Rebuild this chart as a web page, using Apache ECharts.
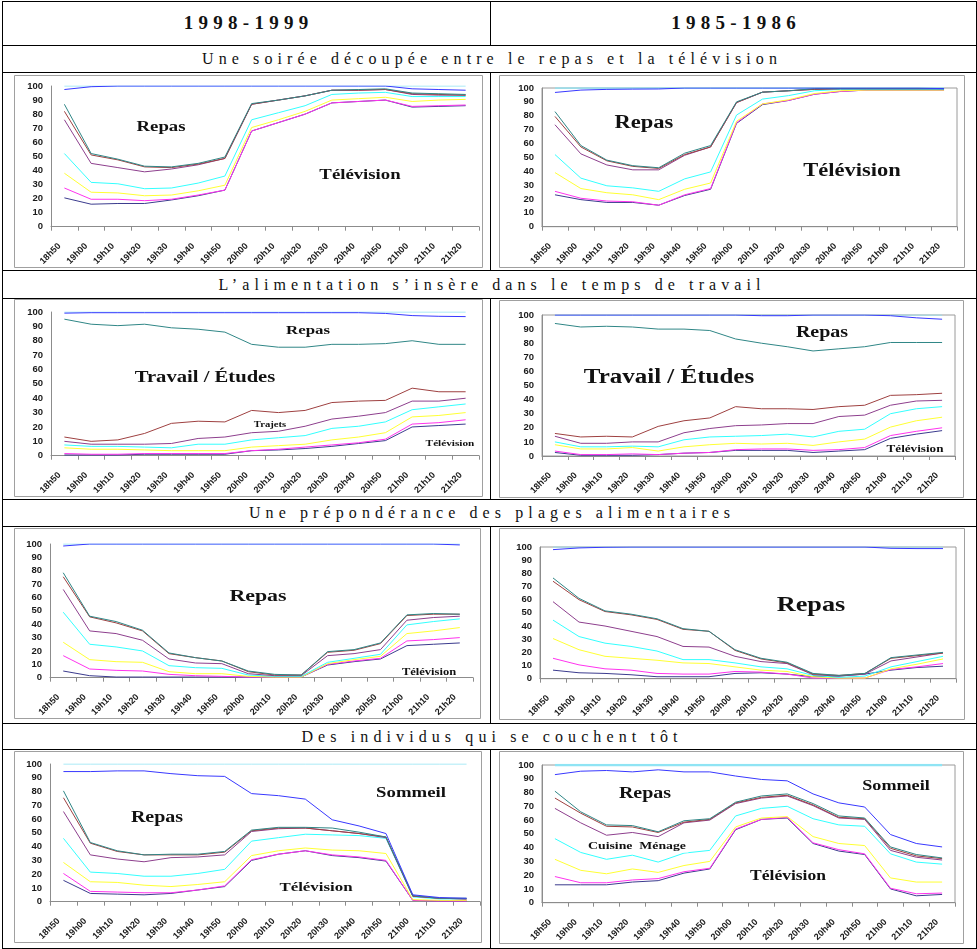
<!DOCTYPE html>
<html>
<head>
<meta charset="utf-8">
<script src="https://cdn.jsdelivr.net/npm/echarts@6.0.0/dist/echarts.min.js"></script>
<style>
  body { margin: 0; background: #fff; }
  #page { position: relative; width: 977px; height: 949px; font-family: "Liberation Serif", serif; color: #111; }
  .h, .v { position: absolute; background: #000; }
  .h { left: 2px; width: 975px; height: 1px; }
  .v { width: 1px; }
  .txt { position: absolute; text-align: center; white-space: nowrap; }
  .an { font-weight: bold; font-size: 19px; letter-spacing: 5.3px; text-indent: 5.3px; height: 44px; line-height: 44px; top: 1px; }
  .titre { left: 2px; width: 975px; font-size: 16px; letter-spacing: 5.1px; text-indent: 5.1px; height: 27px; line-height: 27px; }
  .graph { position: absolute; }
</style>
</head>
<body>
<div id="page">
  <!-- lignes du tableau -->
  <div class="h" style="top:1px"></div>
  <div class="h" style="top:45px"></div>
  <div class="h" style="top:72px"></div>
  <div class="h" style="top:270px"></div>
  <div class="h" style="top:298px"></div>
  <div class="h" style="top:499px"></div>
  <div class="h" style="top:526px"></div>
  <div class="h" style="top:723px"></div>
  <div class="h" style="top:749px"></div>
  <div class="h" style="top:948px"></div>
  <div class="v" style="left:2px;top:1px;height:948px"></div>
  <div class="v" style="left:976px;top:1px;height:948px"></div>
  <div class="v" style="left:490px;top:1px;height:44px"></div>
  <div class="v" style="left:490px;top:72px;height:198px"></div>
  <div class="v" style="left:490px;top:298px;height:201px"></div>
  <div class="v" style="left:490px;top:526px;height:197px"></div>
  <div class="v" style="left:490px;top:749px;height:199px"></div>

  <div class="txt an" style="left:2px;width:488px">1998-1999</div>
  <div class="txt an" style="left:491px;width:485px">1985-1986</div>
  <div class="txt titre" style="top:45px">Une soirée découpée entre le repas et la télévision</div>
  <div class="txt titre" style="top:271px">L’alimentation s’insère dans le temps de travail</div>
  <div class="txt titre" style="top:499px">Une prépondérance des plages alimentaires</div>
  <div class="txt titre" style="top:723px">Des individus qui se couchent tôt</div>

  <div class="graph" id="cA"></div>
  <div class="graph" id="cB"></div>
  <div class="graph" id="cC"></div>
  <div class="graph" id="cD"></div>
  <div class="graph" id="cE"></div>
  <div class="graph" id="cF"></div>
  <div class="graph" id="cG"></div>
  <div class="graph" id="cH"></div>
</div>

<script>
const heures = ['18h50', '19h00', '19h10', '19h20', '19h30', '19h40', '19h50', '20h00',
                '20h10', '20h20', '20h30', '20h40', '20h50', '21h00', '21h10', '21h20'];

// ordre des courbes : ciel (100), marine, rose, jaune, turquoise, violet, bordeaux, sarcelle, bleu
const couleurs = ['#8fe4f4', '#3b3b8e', '#ff33ee', '#ffff33', '#33ffff', '#8d3f8d', '#9e4040', '#2f8686', '#3838ff'];

// Une soirée découpée entre le repas et la télévision
const soiree1998 = [
  [100, 100, 100, 100, 100, 100, 100, 100, 100, 100, 100, 100, 100, 100, 100, 100],
  [20.5, 16, 16.5, 16.5, 19, 22, 26, 68, 74, 80, 88, 89, 90, 85, 85.5, 86],
  [27.5, 19.5, 19.5, 18.5, 19.5, 22.5, 26, 68, 74, 80, 88, 89, 90, 85.5, 86, 86.5],
  [38, 24.5, 24, 22, 22.5, 25.5, 29.5, 70.5, 76, 82, 90, 91, 92, 89, 90, 90.5],
  [52, 31.5, 30.5, 27, 27.5, 31, 36, 76, 81, 86, 94, 95, 95.5, 92.5, 92.5, 92.5],
  [76, 45, 42, 39, 41, 44, 48.5, 87, 90, 93, 97, 97, 97.5, 94, 93.5, 93.5],
  [82, 51, 47.5, 42.5, 42, 44.5, 48.5, 87, 90, 93, 97, 97, 97.5, 94.5, 94, 93.5],
  [87, 52, 48, 43, 42.5, 45, 49.5, 87.5, 90, 93, 97, 97.5, 98, 95, 94.5, 94],
  [97.5, 99.5, 100, 100, 100, 100, 100, 100, 100, 100, 100, 100, 100, 98, 97.5, 97]
];
const soiree1985 = [
  [100, 100, 100, 100, 100, 100, 100, 100, 100, 100, 100, 100, 100, 100, 100, 100],
  [23, 19.5, 17.5, 17.5, 15.5, 22.5, 27, 74.5, 88, 91, 95.5, 97.5, 98.5, 98.5, 98.5, 98.5],
  [25.5, 20.5, 18.5, 18, 15.5, 23, 27.5, 75, 88.5, 91, 95.5, 97.5, 98.5, 98.5, 98.5, 98.5],
  [39, 27.5, 24.5, 23, 19.5, 27, 31.5, 76, 88.5, 91.5, 96, 98, 98.5, 98.5, 98.5, 98.5],
  [52, 35, 29.5, 28, 25.5, 34.5, 39.5, 80.5, 92, 94.5, 98, 99, 99, 99, 99, 99],
  [73.5, 52.5, 44.5, 41, 41, 51.5, 57.5, 89.5, 97, 98, 99, 99.5, 99.5, 99.5, 99.5, 99.5],
  [79.5, 57.5, 47.5, 43.5, 42, 52, 57.5, 89.5, 97, 98, 99, 99.5, 99.5, 99.5, 99.5, 99.5],
  [83, 58.5, 48, 44, 42.5, 53, 58.5, 90, 97, 98, 99.5, 99.5, 99.5, 99.5, 99.5, 99.5],
  [96.8, 98.5, 99, 99.2, 99.3, 100, 100, 100, 100, 100, 100, 100, 100, 100, 100, 99.5]
];

// L'alimentation s'insère dans le temps de travail
const travail1998 = [
  [100, 100, 100, 100, 100, 100, 100, 100, 100, 100, 100, 100, 100, 100, 100, 100],
  [0.5, 0.5, 0.5, 1, 1, 1, 1, 3.5, 4, 5, 6.5, 8.5, 10.5, 20, 21, 22],
  [1.5, 1, 1, 1.5, 1.5, 1.5, 1.5, 3.5, 4.5, 6, 7.5, 9, 11.5, 22, 23, 25],
  [5.5, 4.5, 4.5, 4, 3.5, 3.5, 3.5, 6, 7, 8, 11, 13, 16, 27, 28, 30],
  [7.5, 6.5, 6.5, 6, 5.5, 8, 8, 11, 12.5, 14, 19, 20.5, 23.5, 32, 34, 36],
  [10, 8, 8, 8, 8.5, 12, 13, 16, 17, 20.5, 25.5, 27.5, 30, 38, 38, 40],
  [13, 10, 11, 15.5, 22.5, 24, 23.5, 31.5, 30, 31.5, 37, 38, 38.5, 47, 44.5, 44.5],
  [95, 91.5, 90.5, 91.5, 89, 88, 86, 77.5, 75.5, 75.5, 77.5, 77.5, 78, 80, 77.5, 77.5],
  [99.2, 99.5, 99.5, 99.5, 99.5, 99.5, 99.5, 99.5, 99.5, 99.5, 99.5, 99.5, 99, 97.5, 97, 96.8]
];
const travail1985 = [
  [100, 100, 100, 100, 100, 100, 100, 100, 100, 100, 100, 100, 100, 100, 100, 100],
  [2.5, 0.5, 0.5, 0.5, 1, 2, 2.5, 4, 4, 4, 2.5, 3.5, 4.5, 12.5, 15.5, 18],
  [3.5, 1, 1, 1.5, 1, 2, 2.5, 4.5, 5, 5, 4, 4.5, 6, 14.5, 17.5, 20],
  [8, 5, 5, 6, 3.5, 6.5, 8, 9, 8.5, 9, 7.5, 10, 12, 20.5, 25, 27.5],
  [10, 6.5, 6.5, 7, 6.5, 11.5, 13.5, 14, 14.5, 15.5, 13.5, 17.5, 19, 30, 33.5, 35],
  [14, 9, 9, 10, 10, 16.5, 19.5, 21.5, 22, 23, 23, 28, 29, 36, 39, 39.5],
  [16, 13.5, 14, 13.5, 21, 25, 27, 35, 33.5, 33.5, 33, 35, 36, 43, 43.5, 44.5],
  [94, 91.5, 92, 91.5, 90, 90, 89, 83, 80, 77.5, 74.5, 76, 77.5, 80.5, 80.5, 80.5],
  [100, 100, 100, 100, 100, 100, 100, 100, 99.5, 99.5, 100, 100, 100, 99.5, 98, 97]
];

// Une prépondérance des plages alimentaires
const plages1998 = [
  [100, 100, 100, 100, 100, 100, 100, 100, 100, 100, 100, 100, 100, 100, 100, 100],
  [5, 1.5, 0.5, 0.5, 0.5, 0.5, 0.5, 0.5, 0.5, 0.5, 9.5, 12, 14, 24, 25, 26],
  [16.5, 6.5, 5.5, 5, 2.5, 1.5, 1, 0.5, 0.5, 0.5, 10, 12.5, 14.5, 27.5, 28.5, 30],
  [26.5, 13.5, 12, 11.5, 4.5, 3, 3, 1, 0.5, 0.5, 10.5, 13.5, 16, 33, 35, 37.5],
  [49, 25, 23, 20, 9, 7.5, 7, 2, 1, 1, 11.5, 14.5, 17.5, 39.5, 42, 44],
  [66, 35, 33, 28, 14, 11, 10.5, 3, 1.5, 1.5, 16.5, 18, 21, 43, 45, 46],
  [75.5, 45.5, 41, 35, 18, 15, 12.5, 4.5, 2, 2, 19, 20.5, 25.5, 46.5, 47.5, 47.5],
  [78.5, 46, 42, 35.5, 18.5, 15, 12.5, 5, 2.5, 2, 19.5, 21, 26, 47, 48, 47.5],
  [98.5, 100, 100, 100, 100, 100, 100, 100, 100, 100, 100, 100, 100, 100, 100, 99.3]
];
const plages1985 = [
  [100, 100, 100, 100, 100, 100, 100, 100, 100, 100, 100, 100, 100, 100, 100, 100],
  [6.5, 4.5, 4, 3, 1.5, 1.5, 1.5, 4, 4.5, 3.5, 1.5, 2, 3.5, 6.5, 8.5, 9.5],
  [15.5, 10.5, 7.5, 6.5, 4, 3.5, 3.5, 5.5, 5, 3.5, 0.5, 0.5, 0.5, 7, 9, 11.5],
  [30.5, 22, 17, 15.5, 14, 12, 11.5, 9, 6.5, 5.5, 1.5, 0.5, 0.5, 7.5, 11, 15],
  [44.5, 32, 27, 24.5, 21, 14.5, 14.5, 12, 9, 7.5, 2.5, 1, 2, 9, 13, 17],
  [58.5, 43, 40, 36, 32, 24.5, 24, 17, 13, 11.5, 3, 2, 3.5, 13.5, 16.5, 19.5],
  [74, 60, 51, 48.5, 45, 37.5, 36, 21.5, 15, 12, 3.5, 2.5, 4, 15.5, 17.5, 19.5],
  [76.5, 61, 51.5, 49, 45.5, 38, 36, 22, 15.5, 12.5, 4, 2.5, 4, 16, 18, 20],
  [98, 99.3, 99.8, 100, 100, 100, 100, 100, 100, 100, 100, 100, 100, 99, 98.8, 98.8]
];

// Des individus qui se couchent tôt
const couchent1998 = [
  [100, 100, 100, 100, 100, 100, 100, 100, 100, 100, 100, 100, 100, 100, 100, 100],
  [15.5, 6, 5.5, 5, 6, 8.5, 11, 30, 34.5, 37, 33.5, 32, 29.5, 1, 0.5, 0.5],
  [20.5, 7.5, 7, 6.5, 6.5, 8.5, 11.5, 30.5, 34.5, 37, 34, 32.5, 30, 1, 0.5, 0.5],
  [28.5, 14.5, 14, 12, 11, 12.5, 14.5, 33.5, 37, 39, 37.5, 37, 35, 1.5, 1, 1],
  [46, 21.5, 20.5, 18.5, 18.5, 20.5, 23.5, 44, 46.5, 49, 48.5, 48, 46, 3.5, 2, 2],
  [65.5, 34, 31, 29, 32, 32.5, 34, 51, 53, 53.5, 51.5, 49.5, 46.5, 4, 2.5, 2],
  [75.5, 42.5, 36.5, 34, 34, 34, 36, 51.5, 53.5, 53.5, 51.5, 49.5, 47, 4, 2.5, 2],
  [80.5, 43, 37, 34, 34.5, 34.5, 36.5, 52, 54, 54, 53.5, 50.5, 47, 4.5, 2.5, 2.5],
  [94.5, 94.5, 95, 95, 93, 91.5, 91, 78.5, 77, 74.5, 59.5, 55, 49.5, 5, 3, 2.5]
];
const couchent1985 = [
  [100, 100, 100, 100, 100, 100, 100, 100, 100, 100, 100, 100, 100, 100, 100, 100],
  [13, 13, 13, 15, 16, 21.5, 24.5, 53, 60.5, 61.5, 43, 37.5, 35, 10, 5, 6],
  [19, 14.5, 14.5, 16.5, 17.5, 22.5, 25, 53.5, 60.5, 62, 43.5, 38.5, 35.5, 10.5, 6.5, 7],
  [31.5, 23.5, 21, 24.5, 22, 27, 30, 55, 61.5, 62.5, 48, 43, 41.5, 18, 15, 15],
  [46.5, 36.5, 31.5, 34.5, 29.5, 36, 38, 63, 68.5, 70, 61, 56.5, 55.5, 35.5, 29.5, 28],
  [68.5, 58, 49, 51, 48, 58, 60, 72, 76, 77.5, 70.5, 61.5, 60.5, 38, 33, 31],
  [76, 65, 55.5, 55, 51, 58.5, 60.5, 72.5, 76.5, 78, 71, 62, 61, 39.5, 34, 32],
  [81, 66, 56.5, 56, 51.5, 59.5, 61, 73, 77.5, 79, 72, 63, 61.5, 40.5, 35, 32.5],
  [93, 95.5, 96, 95, 96.5, 95, 95, 92, 89.5, 88.5, 79, 72.5, 69.5, 49.5, 43, 40.5]
];

// mise en page de chaque graphique (coordonnées de la page)
const graphiques = [
  { id: 'cA', donnees: soiree1998, boite: [14, 75, 469, 193], grille: [37, 11, 428, 145], cadre: false, ciel: 1,
    textes: [['Repas', 161, 127, 15], ['Télévision', 360, 175, 15]] },
  { id: 'cB', donnees: soiree1985, boite: [499, 75, 466, 193], grille: [43, 13, 415, 141], cadre: true, ciel: 1.5,
    textes: [['Repas', 644, 123, 18], ['Télévision', 852, 171, 18]] },
  { id: 'cC', donnees: travail1998, boite: [14, 299, 469, 198], grille: [37, 13, 428, 146], cadre: false, ciel: 1,
    textes: [['Repas', 308, 331, 13.5], ['Travail / Études', 205, 378, 16.5], ['Trajets', 270, 425, 8.5], ['Télévision', 450, 444, 9]] },
  { id: 'cD', donnees: travail1985, boite: [499, 300, 465, 198], grille: [43, 15, 413, 141], cadre: true, ciel: 1,
    textes: [['Repas', 822, 333, 16], ['Travail / Études', 669, 378, 20], ['Télévision', 915, 449, 10.5]] },
  { id: 'cE', donnees: plages1998, boite: [14, 528, 467, 191], grille: [36, 16, 423, 141], cadre: false, ciel: 1,
    textes: [['Repas', 258, 596, 17.5], ['Télévision', 429, 672, 10]] },
  { id: 'cF', donnees: plages1985, boite: [499, 528, 466, 192], grille: [41, 19, 416, 134], cadre: true, ciel: 1,
    textes: [['Repas', 811, 606, 21]] },
  { id: 'cG', donnees: couchent1998, boite: [14, 751, 468, 192], grille: [36, 13, 430, 142], cadre: false, ciel: 1,
    textes: [['Repas', 157, 818, 16], ['Sommeil', 411, 793, 15], ['Télévision', 316, 888, 13.5]] },
  { id: 'cH', donnees: couchent1985, boite: [499, 751, 465, 193], grille: [43, 14, 413, 139], cadre: true, ciel: 2.5,
    textes: [['Repas', 645, 794, 16], ['Sommeil', 896, 786, 14.5], ['Cuisine  Ménage', 637, 846, 11, true], ['Télévision', 788, 876, 14]] }
];

function dessiner(g) {
  const [bx, by, bw, bh] = g.boite;
  const el = document.getElementById(g.id);
  el.style.left = bx + 'px';
  el.style.top = by + 'px';
  el.style.width = bw + 'px';
  el.style.height = bh + 'px';
  const chart = echarts.init(el);

  const textes = g.textes.map(t => ({
    type: 'text',
    x: t[1] - bx,
    y: t[2] - by,
    scaleX: 1.25,
    z: 100,
    style: {
      text: t[0],
      fontFamily: 'Liberation Serif',
      fontWeight: 'bold',
      fontSize: t[3],
      fill: '#111',
      align: 'center',
      verticalAlign: 'middle',
      backgroundColor: t[4] ? '#fff' : 'transparent',
      padding: t[4] ? [1, 2] : 0
    }
  }));

  chart.setOption({
    animation: false,
    grid: {
      left: g.grille[0], top: g.grille[1], width: g.grille[2], height: g.grille[3],
      show: g.cadre, borderColor: '#9a9a9a', borderWidth: 1, backgroundColor: 'transparent'
    },
    graphic: [{
      type: 'rect', z: -1,
      shape: { x: 0.5, y: 0.5, width: bw - 1, height: bh - 1 },
      style: { fill: 'none', stroke: '#a0a0a0', lineWidth: 1 }
    }].concat(textes),
    xAxis: {
      type: 'category',
      data: heures,
      boundaryGap: true,
      axisLine: { lineStyle: { color: '#8c8c8c', width: 1 } },
      axisTick: { show: true, length: 4, lineStyle: { color: '#8c8c8c' } },
      axisLabel: {
        interval: 0, rotate: 45, margin: 13,
        padding: [0, 7, 14, 0],
        fontFamily: 'Liberation Sans', fontWeight: 'bold', fontSize: 9, color: '#1a1a1a'
      },
      splitLine: { show: false }
    },
    yAxis: {
      type: 'value', min: 0, max: 100, interval: 10,
      axisLine: { show: true, lineStyle: { color: '#8c8c8c', width: 1 } },
      axisTick: { show: false },
      axisLabel: { margin: 8, fontFamily: 'Liberation Sans', fontWeight: 'bold', fontSize: 9.5, color: '#1a1a1a' },
      splitLine: { show: false }
    },
    series: g.donnees.map((serie, k) => ({
      type: 'line',
      data: serie,
      symbol: 'none',
      silent: true,
      lineStyle: { color: couleurs[k], width: k === 0 ? g.ciel : 1 }
    }))
  });
}

graphiques.forEach(dessiner);
</script>
</body>
</html>
